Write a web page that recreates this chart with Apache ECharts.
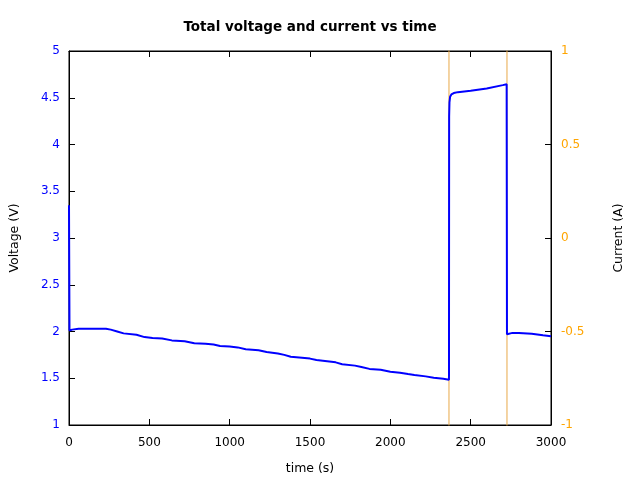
<!DOCTYPE html>
<html>
<head>
<meta charset="utf-8">
<script src="https://cdn.jsdelivr.net/npm/echarts@6/dist/echarts.min.js"></script>
<style>html,body{margin:0;padding:0;background:#fff}#c{width:640px;height:480px}</style>
</head>
<body>
<div id="c"></div>
<script>
var titleText = "Total voltage and current vs time";
var xName = "time (s)";
var yLeftName = "Voltage (V)";
var yRightName = "Current (A)";

var voltTime = [0, 3, 20, 60, 150, 230, 260, 300, 340, 420, 470, 520, 580, 640, 720, 780, 850, 900, 940, 1000, 1050, 1100, 1180, 1230, 1300, 1340, 1380, 1450, 1500, 1540, 1620, 1660, 1700, 1780, 1820, 1870, 1940, 2000, 2060, 2110, 2150, 2220, 2270, 2330, 2365, 2366, 2368, 2372, 2380, 2395, 2420, 2500, 2600, 2700, 2724, 2726, 2760, 2800, 2880, 2950, 3000];
var voltage = [3.35, 2.01, 2.02, 2.03, 2.03, 2.03, 2.02, 2.00, 1.98, 1.965, 1.94, 1.93, 1.925, 1.905, 1.895, 1.875, 1.87, 1.86, 1.845, 1.84, 1.83, 1.81, 1.80, 1.78, 1.765, 1.75, 1.73, 1.72, 1.71, 1.695, 1.68, 1.67, 1.65, 1.635, 1.62, 1.60, 1.59, 1.57, 1.56, 1.545, 1.535, 1.52, 1.505, 1.495, 1.485, 4.30, 4.45, 4.51, 4.535, 4.55, 4.56, 4.575, 4.60, 4.635, 4.645, 1.97, 1.985, 1.985, 1.975, 1.96, 1.95];

var currTime = [0, 2365, 2365, 2726, 2726, 3000];
var current = [-1.2, -1.2, 1.2, 1.2, -1.2, -1.2];

var xTicks = {min: 0, max: 3000, interval: 500};
var vTicks = {min: 1, max: 5, interval: 0.5};
var iTicks = {min: -1, max: 1, interval: 0.5};

function pairs(a, b) { return a.map(function (t, i) { return [t, b[i]]; }); }
function plain(v) { return String(v); }

var FONT = "DejaVu Sans";
var chart = echarts.init(document.getElementById('c'), null, {renderer: 'canvas'});
chart.setOption({
  animation: false,
  backgroundColor: '#ffffff',
  title: {
    text: titleText, left: 305, textAlign: 'center', top: 15,
    textStyle: {fontFamily: FONT, fontSize: 13.5, fontWeight: 'bold', color: '#000'}
  },
  grid: {left: 69, right: 89, top: 51, bottom: 53, show: true, borderColor: '#000', borderWidth: 1, backgroundColor: 'transparent'},
  xAxis: [{
    type: 'value', position: 'bottom', min: xTicks.min, max: xTicks.max, interval: xTicks.interval,
    name: xName, nameLocation: 'middle', nameGap: 37,
    nameTextStyle: {fontFamily: FONT, fontSize: 12.5, color: '#000'},
    axisLine: {show: true, onZero: false, lineStyle: {color: '#000', width: 1}},
    axisTick: {show: true, inside: true, length: 6, lineStyle: {color: '#000'}},
    axisLabel: {fontFamily: FONT, fontSize: 12, color: '#000', margin: 12, formatter: plain},
    splitLine: {show: false}
  }, {
    type: 'value', position: 'top', min: xTicks.min, max: xTicks.max, interval: xTicks.interval,
    axisLine: {show: true, onZero: false, lineStyle: {color: '#000', width: 1}},
    axisTick: {show: true, inside: true, length: 6, lineStyle: {color: '#000'}},
    axisLabel: {show: false},
    splitLine: {show: false}
  }],
  yAxis: [{
    type: 'value', position: 'left', min: vTicks.min, max: vTicks.max, interval: vTicks.interval,
    name: yLeftName, nameLocation: 'middle', nameGap: 48,
    nameTextStyle: {fontFamily: FONT, fontSize: 12.5, color: '#000'},
    axisLine: {show: true, onZero: false, lineStyle: {color: '#000', width: 1}},
    axisTick: {show: true, inside: true, length: 6, lineStyle: {color: '#000'}},
    axisLabel: {fontFamily: FONT, fontSize: 12, color: '#0000ff', margin: 9, formatter: plain},
    splitLine: {show: false}
  }, {
    type: 'value', position: 'right', min: iTicks.min, max: iTicks.max, interval: iTicks.interval,
    name: yRightName, nameLocation: 'middle', nameGap: 61, nameRotate: 90,
    nameTextStyle: {fontFamily: FONT, fontSize: 12.5, color: '#000'},
    axisLine: {show: true, onZero: false, lineStyle: {color: '#000', width: 1}},
    axisTick: {show: true, inside: true, length: 6, lineStyle: {color: '#000'}},
    axisLabel: {fontFamily: FONT, fontSize: 12, color: '#ffa500', margin: 10, formatter: plain},
    splitLine: {show: false}
  }],
  series: [{
    name: 'Current', type: 'line', xAxisIndex: 0, yAxisIndex: 1,
    data: pairs(currTime, current), showSymbol: false, symbol: 'none', clip: true,
    lineStyle: {color: '#e8a848', width: 1}, z: 2
  }, {
    name: 'Voltage', type: 'line', xAxisIndex: 0, yAxisIndex: 0,
    data: pairs(voltTime, voltage), showSymbol: false, symbol: 'none', clip: true,
    lineStyle: {color: '#0000ff', width: 2}, z: 3
  }]
});
</script>
</body>
</html>
